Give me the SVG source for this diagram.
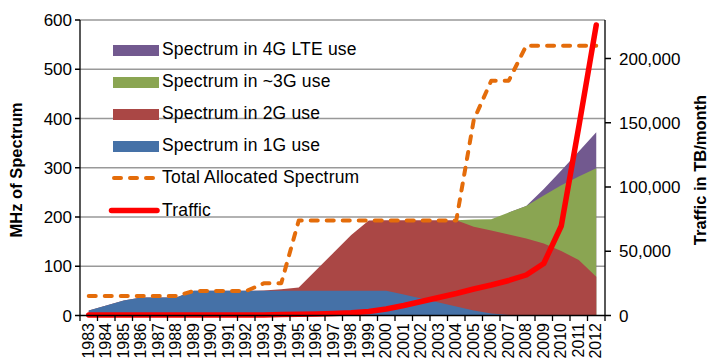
<svg xmlns="http://www.w3.org/2000/svg" width="708" height="359" viewBox="0 0 708 359">
<style>
text{font-family:"Liberation Sans",Arial,sans-serif;fill:#000}
.tk{font-size:17px}
.yr{font-size:16px}
.lg{font-size:17.5px;letter-spacing:0.2px}
.ttl{font-size:16.5px;font-weight:bold}
.grid line{stroke:#999;stroke-width:1.3}
.ax{stroke:#000;stroke-width:1.3;fill:none}
.dash{fill:none;stroke:#E46C0A;stroke-width:4;stroke-dasharray:7 9;stroke-linecap:round;stroke-linejoin:round}
.trf{fill:none;stroke:#FF0000;stroke-width:5.5;stroke-linecap:round;stroke-linejoin:round}
</style>
<rect width="708" height="359" fill="#fff"/>
<g id="gridlines" class="grid">
<line x1="80" y1="20" x2="605" y2="20"/>
<line x1="80" y1="69.25" x2="605" y2="69.25"/>
<line x1="80" y1="118.5" x2="605" y2="118.5"/>
<line x1="80" y1="167.75" x2="605" y2="167.75"/>
<line x1="80" y1="217" x2="605" y2="217"/>
<line x1="80" y1="266.25" x2="605" y2="266.25"/>
</g>
<g id="series-4G">
<polygon fill="#72598F" points="508.75,212.6 526.25,206 543.75,189 561.25,170.5 578.75,151.5 596.25,132.3 596.25,315.5 508.75,315.5"/>
</g>
<g id="series-3G">
<polygon fill="#8AA552" points="456.25,220.3 473.75,219.5 491.25,219.3 508.75,212.6 526.25,206 543.75,195.6 561.25,185.2 578.75,176.5 596.25,168.3 596.25,315.5 456.25,315.5"/>
</g>
<g id="series-2G">
<polygon fill="#AA4745" points="88.75,310.5 106.25,305.5 123.75,300.5 141.25,297.5 158.75,297.5 176.25,297.5 193.75,290.8 211.25,290.8 228.75,290.8 246.25,290.8 263.75,290.5 281.25,289.3 298.75,287.5 316.25,270 333.75,252.5 351.25,235 368.75,220.5 386.25,220.3 403.75,220.3 421.25,220.3 438.75,220.3 456.25,220.3 473.75,226.7 491.25,230.5 508.75,234.5 526.25,238.5 543.75,243.5 561.25,251 578.75,260 596.25,276.7 596.25,315.5 88.75,315.5"/>
</g>
<g id="series-1G">
<polygon fill="#4571A7" points="88.75,310.5 106.25,305.5 123.75,300.5 141.25,297.5 158.75,297.5 176.25,297.5 193.75,290.8 211.25,290.8 228.75,290.8 246.25,290.8 263.75,290.8 281.25,290.8 298.75,290.8 316.25,290.8 333.75,290.8 351.25,290.8 368.75,290.8 386.25,290.8 403.75,294.5 421.25,298.5 438.75,302.5 456.25,306.5 473.75,310.5 491.25,313.5 508.75,315 526.25,315.5 596.25,315.5 88.75,315.5"/>
</g>
<g id="series-total-allocated">
<polyline class="dash" points="88.75,296 106.25,296 123.75,296 141.25,296 158.75,296 176.25,296 193.75,291 211.25,291 228.75,291 246.25,291 263.75,283.3 281.25,283.3 298.75,220.5 316.25,220.5 333.75,220.5 351.25,220.5 368.75,220.5 386.25,220.5 403.75,220.5 421.25,220.5 438.75,220.5 456.25,220.5 473.75,120 491.25,80.7 508.75,80.7 526.25,45.7 543.75,45.7 561.25,45.7 578.75,45.7 596.25,45.7"/>
</g>
<g id="series-traffic">
<polyline class="trf" points="88.75,315 106.25,315 123.75,315 141.25,315 158.75,315 176.25,315 193.75,315 211.25,315 228.75,315 246.25,315 263.75,315 281.25,314.5 298.75,314.3 316.25,314 333.75,313.5 351.25,312.8 368.75,311.5 386.25,309 403.75,305.5 421.25,301.5 438.75,297.5 456.25,293.5 473.75,289 491.25,285 508.75,280.5 526.25,275 543.75,263.5 561.25,226 578.75,127 596.25,25"/>
</g>
<g id="axes">
<path class="ax" d="M80,20V315.5H605M605,20V315.5"/>
<path class="ax" d="M75,20H80M75,69.25H80M75,118.5H80M75,167.75H80M75,217H80M75,266.25H80M75,315.5H80"/>
<path class="ax" d="M605,315.5H611M605,251.25H611M605,187H611M605,122.75H611M605,58.5H611"/>
<path class="ax" d="M80,315.5V321M97.5,315.5V321M115,315.5V321M132.5,315.5V321M150,315.5V321M167.5,315.5V321M185,315.5V321M202.5,315.5V321M220,315.5V321M237.5,315.5V321M255,315.5V321M272.5,315.5V321M290,315.5V321M307.5,315.5V321M325,315.5V321M342.5,315.5V321M360,315.5V321M377.5,315.5V321M395,315.5V321M412.5,315.5V321M430,315.5V321M447.5,315.5V321M465,315.5V321M482.5,315.5V321M500,315.5V321M517.5,315.5V321M535,315.5V321M552.5,315.5V321M570,315.5V321M587.5,315.5V321M605,315.5V321"/>
</g>
<g id="left-axis-labels" class="tk" text-anchor="end">
<text x="72" y="26">600</text>
<text x="72" y="75.25">500</text>
<text x="72" y="124.5">400</text>
<text x="72" y="173.75">300</text>
<text x="72" y="223">200</text>
<text x="72" y="272.25">100</text>
<text x="72" y="321.5">0</text>
</g>
<g id="right-axis-labels" class="tk">
<text x="619" y="64.5">200,000</text>
<text x="619" y="128.75">150,000</text>
<text x="619" y="193">100,000</text>
<text x="619" y="257.25">50,000</text>
<text x="619" y="321.5">0</text>
</g>
<g id="year-labels" class="yr" text-anchor="end">
<text transform="translate(93.5,323) rotate(-90)">1983</text>
<text transform="translate(111,323) rotate(-90)">1984</text>
<text transform="translate(128.5,323) rotate(-90)">1985</text>
<text transform="translate(146,323) rotate(-90)">1986</text>
<text transform="translate(163.5,323) rotate(-90)">1987</text>
<text transform="translate(181,323) rotate(-90)">1988</text>
<text transform="translate(198.5,323) rotate(-90)">1989</text>
<text transform="translate(216,323) rotate(-90)">1990</text>
<text transform="translate(233.5,323) rotate(-90)">1991</text>
<text transform="translate(251,323) rotate(-90)">1992</text>
<text transform="translate(268.5,323) rotate(-90)">1993</text>
<text transform="translate(286,323) rotate(-90)">1994</text>
<text transform="translate(303.5,323) rotate(-90)">1995</text>
<text transform="translate(321,323) rotate(-90)">1996</text>
<text transform="translate(338.5,323) rotate(-90)">1997</text>
<text transform="translate(356,323) rotate(-90)">1998</text>
<text transform="translate(373.5,323) rotate(-90)">1999</text>
<text transform="translate(391,323) rotate(-90)">2000</text>
<text transform="translate(408.5,323) rotate(-90)">2001</text>
<text transform="translate(426,323) rotate(-90)">2002</text>
<text transform="translate(443.5,323) rotate(-90)">2003</text>
<text transform="translate(461,323) rotate(-90)">2004</text>
<text transform="translate(478.5,323) rotate(-90)">2005</text>
<text transform="translate(496,323) rotate(-90)">2006</text>
<text transform="translate(513.5,323) rotate(-90)">2007</text>
<text transform="translate(531,323) rotate(-90)">2008</text>
<text transform="translate(548.5,323) rotate(-90)">2009</text>
<text transform="translate(566,323) rotate(-90)">2010</text>
<text transform="translate(583.5,323) rotate(-90)">2011</text>
<text transform="translate(601,323) rotate(-90)">2012</text>
</g>
<g id="axis-titles" class="ttl" text-anchor="middle">
<text transform="translate(22.3,170) rotate(-90)">MHz of Spectrum</text>
<text transform="translate(706,170) rotate(-90)">Traffic in TB/month</text>
</g>
<g id="legend">
<rect x="113" y="45" width="46" height="11" fill="#72598F"/>
<text class="lg" x="162" y="54.5">Spectrum in 4G LTE use</text>
<rect x="113" y="77" width="46" height="11" fill="#8AA552"/>
<text class="lg" x="162" y="86.7">Spectrum in ~3G use</text>
<rect x="113" y="109" width="46" height="11" fill="#AA4745"/>
<text class="lg" x="162" y="118.8">Spectrum in 2G use</text>
<rect x="113" y="141" width="46" height="11" fill="#4571A7"/>
<text class="lg" x="162" y="151">Spectrum in 1G use</text>
<line class="dash" x1="114" y1="178" x2="153" y2="178"/>
<text class="lg" x="162" y="183.3">Total Allocated Spectrum</text>
<line class="trf" x1="111.5" y1="210.5" x2="157" y2="210.5"/>
<text class="lg" x="162" y="215.6">Traffic</text>
</g>
</svg>
